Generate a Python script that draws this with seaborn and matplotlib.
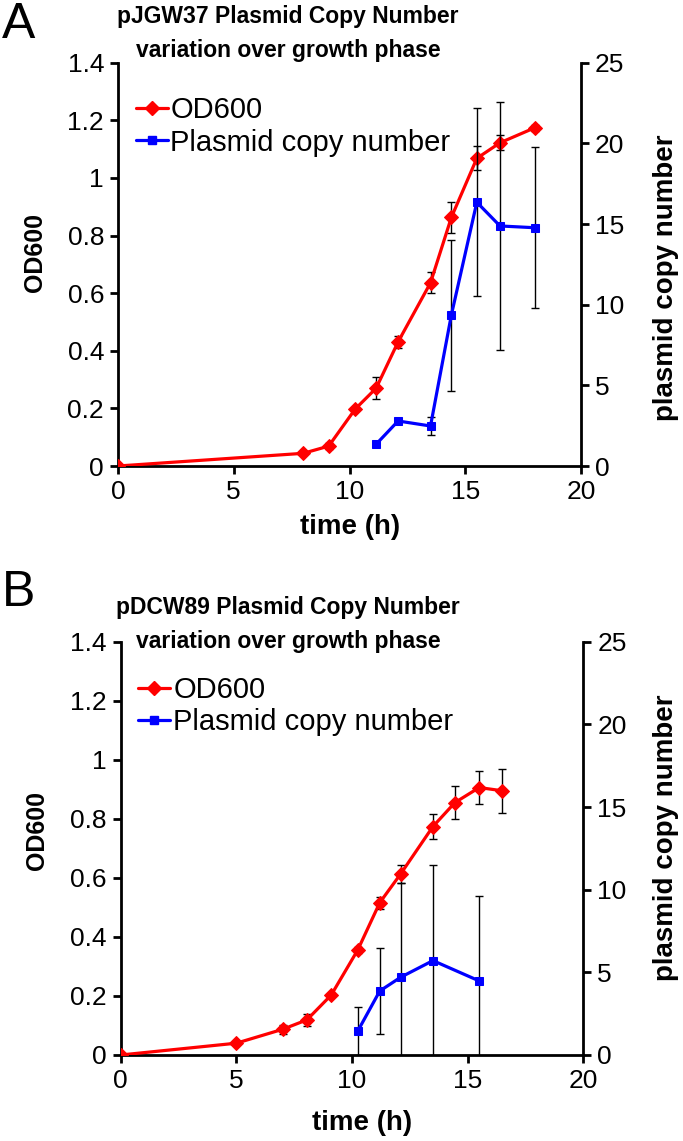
import numpy as np
import pandas as pd
import matplotlib
matplotlib.use("Agg")
import matplotlib.pyplot as plt
import seaborn as sns

# === Data
# Panel A : pJGW37
tA_od = [0, 8.0, 9.1, 10.25, 11.15, 12.1, 13.5, 14.4, 15.5, 16.5, 18.0]
odA = [0, 0.044, 0.069, 0.198, 0.270, 0.431, 0.636, 0.863, 1.068, 1.122, 1.174]
odA_err = [0, 0, 0.01, 0, 0.038, 0.02, 0.036, 0.055, 0.042, 0.026, 0.01]
tA_pcn = [11.15, 12.1, 13.5, 14.4, 15.5, 16.5, 18.0]
pcnA = [1.35, 2.79, 2.48, 9.36, 16.35, 14.88, 14.77]
pcnA_err = [0, 0, 0.56, 4.68, 5.84, 7.68, 5.0]

# Panel B : pDCW89
tB_od = [0, 5.0, 7.0, 8.05, 9.1, 10.25, 11.2, 12.1, 13.5, 14.45, 15.5, 16.5]
odB = [0, 0.040, 0.087, 0.119, 0.203, 0.356, 0.516, 0.613, 0.774, 0.855, 0.906, 0.895]
odB_err = [0, 0, 0.015, 0.02, 0, 0.01, 0.02, 0.03, 0.043, 0.055, 0.057, 0.074]
tB_pcn = [10.25, 11.2, 12.1, 13.5, 15.5]
pcnB = [1.45, 3.87, 4.70, 5.71, 4.48]
pcnB_err = [1.43, 2.58, 5.69, 5.79, 5.14]

TITLES = ["pJGW37 Plasmid Copy Number\nvariation over growth phase",
          "pDCW89 Plasmid Copy Number\nvariation over growth phase"]
PANEL_LABELS = ["A", "B"]

# === Style
sns.set_theme(style="ticks")
plt.rcParams["font.family"] = ["Liberation Sans", "DejaVu Sans"]
plt.rcParams.update({
    "axes.linewidth": 2.0,
    "axes.edgecolor": "black",
    "text.color": "black",
    "axes.labelcolor": "black",
    "xtick.color": "black",
    "ytick.color": "black",
})

fig = plt.figure(figsize=(6.83, 11.41), dpi=100)
W, H = 683, 1141


def fx(px):
    return px / W


def fy(py):
    return 1 - py / H


def panel(rect, t_od, od, od_err, t_pcn, pcn, pcn_err, title, title_y, label, label_y, lab_pos):
    l, r, top, bot = rect
    ax = fig.add_axes([fx(l), fy(bot), (r - l) / W, (bot - top) / H])
    ax2 = ax.twinx()

    df_od = pd.DataFrame({"time": t_od, "od": od})
    df_pcn = pd.DataFrame({"time": t_pcn, "pcn": pcn})

    ax.errorbar(t_od, od, yerr=od_err, fmt="none", ecolor="black", elinewidth=1, capsize=3, capthick=1, zorder=1)
    sns.lineplot(data=df_od, x="time", y="od", ax=ax, color="#ff0000", lw=2.3, marker="D",
                 markersize=7, markeredgecolor="#ff0000", estimator=None, sort=False, zorder=3)

    ax2.errorbar(t_pcn, pcn, yerr=pcn_err, fmt="none", ecolor="black", elinewidth=1, capsize=3, capthick=1, zorder=1)
    sns.lineplot(data=df_pcn, x="time", y="pcn", ax=ax2, color="#0000ff", lw=2.3, marker="s",
                 markersize=6, markeredgecolor="#0000ff", estimator=None, sort=False, zorder=3)

    ax.set_xlim(0, 20)
    ax.set_ylim(0, 1.4)
    ax2.set_ylim(0, 25)
    ax.set_xticks([0, 5, 10, 15, 20])
    ax.set_yticks(np.arange(0, 1.41, 0.2))
    ax.set_yticklabels(["0", "0.2", "0.4", "0.6", "0.8", "1", "1.2", "1.4"])
    ax2.set_yticks([0, 5, 10, 15, 20, 25])

    for a in (ax, ax2):
        a.spines["top"].set_visible(False)
        a.tick_params(axis="both", direction="out", length=6, width=2, labelsize=19, pad=4)
        a.set_xlabel("")
        a.set_ylabel("")
    ax2.spines["left"].set_visible(False)
    ax2.spines["bottom"].set_visible(False)
    ax.spines["right"].set_visible(False)

    # axis titles placed where the reference has them
    (ox, oy), (px_, py_), (tx, ty) = lab_pos
    fig.text(fx(ox), fy(oy), "OD600", rotation=90, ha="center", va="center", fontsize=18, fontweight="bold")
    fig.text(fx(px_), fy(py_), "plasmid copy number", rotation=90, ha="center", va="center",
             fontsize=20, fontweight="bold")
    fig.text(fx(tx), fy(ty), "time (h)", ha="center", va="center", fontsize=20, fontweight="bold")

    handles = [
        plt.Line2D([], [], color="#ff0000", lw=2.3, marker="D", markersize=7),
        plt.Line2D([], [], color="#0000ff", lw=2.3, marker="s", markersize=6),
    ]
    ax2.legend(handles, ["OD600", "Plasmid copy number"], loc="upper left", frameon=False,
               fontsize=21, handlelength=1.1, handletextpad=0.1, labelspacing=0.15,
               borderaxespad=0.2, bbox_to_anchor=(0.0, 0.96))

    fig.text(fx(288), fy(title_y), title, ha="center", va="center", fontsize=16.5,
             fontweight="bold", linespacing=1.6)
    fig.text(fx(2), fy(label_y), label, ha="left", va="top", fontsize=36)
    return ax


panel((118, 581, 62.7, 466), tA_od, odA, odA_err, tA_pcn, pcnA, pcnA_err,
      TITLES[0], 33.5, PANEL_LABELS[0], 2,
      ((35, 252), (666, 278), (350, 527)))
panel((120.7, 583.3, 641.7, 1055), tB_od, odB, odB_err, tB_pcn, pcnB, pcnB_err,
      TITLES[1], 624.5, PANEL_LABELS[1], 570,
      ((37, 830), (666, 838), (362, 1123)))

fig.savefig("out.png", dpi=100)
